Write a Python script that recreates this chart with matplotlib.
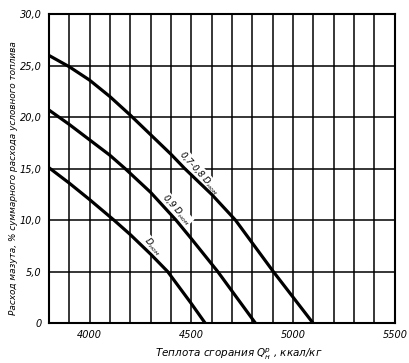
import matplotlib
matplotlib.use("Agg")
import matplotlib.pyplot as plt

# heat of combustion, kcal/kg  vs  fuel oil share, %
x_top = [3800, 3900, 4000, 4100, 4200, 4300, 4400, 4468, 4600, 4717, 4903, 5098]
y_top = [26.0, 24.9, 23.6, 22.0, 20.2, 18.3, 16.4, 15.0, 12.5, 10.0, 5.0, 0.0]

x_mid = [3800, 3900, 4000, 4100, 4175, 4300, 4425, 4500, 4630, 4815]
y_mid = [20.7, 19.3, 17.8, 16.3, 15.0, 12.7, 10.0, 8.2, 5.0, 0.0]

x_low = [3800, 3900, 4000, 4120, 4200, 4300, 4384, 4500, 4568]
y_low = [15.1, 13.6, 12.0, 10.0, 8.6, 6.7, 5.0, 1.9, 0.0]

yticks = [0, 5, 10, 15, 20, 25, 30]
ytick_labels = ["0", "5,0", "10,0", "15,0", "20,0", "25,0", "30,0"]
xticks = [4000, 4500, 5000, 5500]

fig = plt.figure(figsize=(4.10, 3.63), dpi=100)
ax = fig.add_axes([0.119, 0.110, 0.844, 0.851])

# grid: every 100 kcal/kg, every 5 %
for gx in range(3900, 5500, 100):
    ax.axvline(gx, color="black", lw=1.1, zorder=1)
for gy in range(5, 30, 5):
    ax.axhline(gy, color="black", lw=1.1, zorder=1)

for xs, ys in [(x_top, y_top), (x_mid, y_mid), (x_low, y_low)]:
    ax.plot(xs, ys, color="black", lw=2.3, zorder=5, solid_joinstyle="round")

lbl = dict(fontsize=6.3, style="italic", rotation=-48, ha="center", va="center",
           zorder=4, bbox=dict(facecolor="white", edgecolor="none", pad=0.3))
ax.text(4540, 14.6, "0,7-0,8 D$_{ном}$", **lbl)
ax.text(4428, 11.0, "0,9 D$_{ном}$", **lbl)
ax.text(4308, 7.4, "D$_{ном}$", **lbl)

ax.set_xlim(3800, 5500)
ax.set_ylim(0, 30)
ax.set_xticks(xticks)
ax.set_xticklabels([str(v) for v in xticks], fontsize=7, style="italic")
ax.set_yticks(yticks)
ax.set_yticklabels(ytick_labels, fontsize=7, style="italic")
ax.tick_params(length=0, pad=5)
for s in ax.spines.values():
    s.set_linewidth(1.5)
    s.set_zorder(6)

ax.set_xlabel("Теплота сгорания Q$_{н}^{р}$ , ккал/кг", fontsize=7.5, style="italic")
ax.xaxis.set_label_coords(0.55, -0.075)
ax.set_ylabel("Расход мазута, % суммарного расхода условного топлива", fontsize=6.4, style="italic")
ax.yaxis.set_label_coords(-0.088, 0.47)

fig.savefig("out.png", dpi=100)
